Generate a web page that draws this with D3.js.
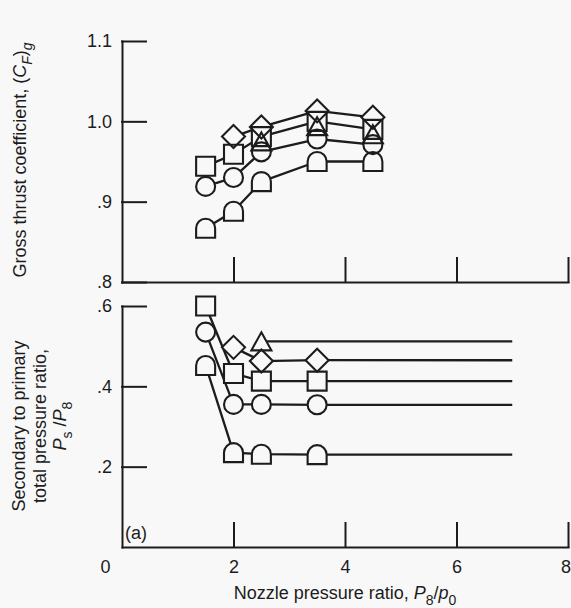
<!DOCTYPE html>
<html>
<head>
<meta charset="utf-8">
<script src="https://cdn.jsdelivr.net/npm/d3@7"></script>
<style>
  html, body { margin: 0; padding: 0; background: #f8f8f8; }
  svg { display: block; font-family: "Liberation Sans", Arial, Helvetica, sans-serif; }
</style>
</head>
<body>
<svg id="chart" width="571" height="608"></svg>
<script>
// Nozzle pressure ratios P8/p0 at which data were taken
const nozzlePR = [1.5, 2, 2.5, 3.5, 4.5];

// Gross thrust coefficient (C_F)g, one array per symbol (null = no point)
const cfTomb     = [0.867, 0.888, 0.925, 0.950, 0.950];
const cfCircle   = [0.919, 0.930, 0.962, 0.978, 0.971];
const cfSquare   = [0.944, 0.959, 0.981, 1.000, 0.990];
const cfTriangle = [null,  null,  0.975, 0.994, 0.984];
const cfDiamond  = [null,  0.981, 0.993, 1.013, 1.005];

// Secondary to primary total pressure ratio Ps/P8
const psTomb     = [0.452, 0.235, 0.231, 0.230, null];
const psCircle   = [0.535, 0.355, 0.355, 0.354, null];
const psSquare   = [0.600, 0.432, 0.413, 0.413, null];
const psTriangle = [null,  null,  0.512, null,  null];
const psDiamond  = [null,  0.497, 0.463, 0.465, null];
// pressure-ratio curves are carried level out to this nozzle pressure ratio
const psFairedTo = 7;

// Axis ticks
const xTicks = [0, 2, 4, 6, 8];
const cfTicks = [0.8, 0.9, 1.0, 1.1];
const psTicks = [0.2, 0.4, 0.6];

const INK = "#1c1c1c";
const BG = "#f8f8f8";
const FONT = 18;

const svg = d3.select("#chart");
svg.append("rect").attr("width", 571).attr("height", 608).attr("fill", BG);

const x = d3.scaleLinear().domain([0, 8]).range([122, 568]);
const yTop = d3.scaleLinear().domain([0.8, 1.1]).range([282, 41]);
const yBot = d3.scaleLinear().domain([0, 0.6]).range([547, 306]);

const tickFmt = d => d >= 1 ? d.toFixed(1) : d.toFixed(1).replace(/^0/, "");

function styleAxis(g) {
  g.attr("font-family", null).attr("font-size", null);
  g.selectAll(".domain, .tick line")
    .attr("stroke", INK).attr("stroke-width", 2).attr("stroke-linecap", "square");
  g.selectAll(".tick text").attr("fill", INK).attr("font-size", FONT);
}

// ---- axes ----
svg.append("g").attr("transform", `translate(${x(0)},0)`)
  .call(d3.axisLeft(yTop).tickValues(cfTicks).tickSize(-24).tickSizeOuter(0)
    .tickPadding(10).tickFormat(tickFmt))
  .call(styleAxis);

svg.append("g").attr("transform", `translate(0,${yTop(0.8)})`)
  .call(d3.axisBottom(x).tickValues(xTicks.filter(d => d > 0)).tickSize(-24)
    .tickSizeOuter(0).tickFormat(""))
  .call(styleAxis);

svg.append("g").attr("transform", `translate(${x(0)},0)`)
  .call(d3.axisLeft(yBot).tickValues(psTicks).tickSize(-24).tickSizeOuter(0)
    .tickPadding(10).tickFormat(tickFmt))
  .call(styleAxis);

const xAxisBot = svg.append("g").attr("transform", `translate(0,${yBot(0)})`)
  .call(d3.axisBottom(x).tickValues(xTicks).tickSize(-24).tickSizeOuter(0)
    .tickPadding(13).tickFormat(d3.format("d")))
  .call(styleAxis);
// origin label sits at the corner, shared by both axes
xAxisBot.selectAll(".tick").filter(d => d === 0)
  .call(t => t.select("line").remove())
  .select("text").attr("x", -17);
// last label is kept inside the right edge
xAxisBot.selectAll(".tick").filter(d => d === 8)
  .select("text").attr("text-anchor", "end").attr("x", 2.5);

// ---- symbols ----
const H = 9.5;
const shapes = {
  circle:   `M${-H},0A${H},${H} 0 1,1 ${H},0A${H},${H} 0 1,1 ${-H},0Z`,
  square:   `M${-H},${-H}H${H}V${H}H${-H}Z`,
  diamond:  `M0,-11.5L11.5,0L0,11.5L-11.5,0Z`,
  triangle: `M0,-9L10,9H-10Z`,
  tomb:     `M${-H},0A${H},${H} 0 0,1 ${H},0V${H}H${-H}Z`
};

const topSeries = [
  { shape: "tomb", values: cfTomb, line: true },
  { shape: "circle", values: cfCircle, line: true },
  { shape: "square", values: cfSquare, line: true },
  { shape: "triangle", values: cfTriangle, line: false },
  { shape: "diamond", values: cfDiamond, line: true }
];
const botSeries = [
  { shape: "tomb", values: psTomb },
  { shape: "circle", values: psCircle },
  { shape: "square", values: psSquare },
  { shape: "triangle", values: psTriangle },
  { shape: "diamond", values: psDiamond }
];

function points(values) {
  return nozzlePR.map((p, i) => ({ p, v: values[i] })).filter(d => d.v != null);
}

function drawPanel(series, y, faired) {
  const g = svg.append("g");
  const line = d3.line().x(d => x(d.p)).y(d => y(d.v));
  series.forEach(s => {
    if (s.line === false) return;
    const pts = points(s.values);
    if (faired != null) pts.push({ p: faired, v: pts[pts.length - 1].v });
    g.append("path").attr("d", line(pts))
      .attr("fill", "none").attr("stroke", INK).attr("stroke-width", 2.3)
      .attr("stroke-linejoin", "round");
  });
  const all = series.flatMap(s => points(s.values).map(d => ({ ...d, shape: s.shape })));
  // symbols are open: mask the curves first, then draw every outline on top
  g.selectAll("path.fill").data(all).join("path").attr("class", "fill")
    .attr("d", d => shapes[d.shape])
    .attr("transform", d => `translate(${x(d.p)},${y(d.v)})`)
    .attr("fill", BG).attr("stroke", "none");
  g.selectAll("path.outline").data(all).join("path").attr("class", "outline")
    .attr("d", d => shapes[d.shape])
    .attr("transform", d => `translate(${x(d.p)},${y(d.v)})`)
    .attr("fill", "none").attr("stroke", INK).attr("stroke-width", 2.1)
    .attr("stroke-linejoin", "miter");
}

drawPanel(topSeries, yTop, null);
drawPanel(botSeries, yBot, psFairedTo);

// ---- titles ----
const SUB = 6, SUBSIZE = 14;
function rich(text, parts) {
  let shift = 0;
  parts.forEach(p => {
    const ts = text.append("tspan").text(p.t);
    if (p.i) ts.attr("font-style", "italic");
    const target = p.s ? SUB : 0;
    if (target !== shift) { ts.attr("dy", target - shift); shift = target; }
    if (p.s) ts.attr("font-size", SUBSIZE);
  });
  return text;
}

rich(svg.append("text").attr("transform", "translate(25.5,160) rotate(-90)")
  .attr("text-anchor", "middle").attr("font-size", FONT).attr("fill", INK), [
  { t: "Gross thrust coefficient, (" }, { t: "C", i: 1 }, { t: "F", i: 1, s: 1 },
  { t: ")" }, { t: "g", i: 1, s: 1 }
]);

const psTitle = [
  [{ t: "Secondary to primary" }],
  [{ t: "total pressure ratio," }],
  [{ t: "P", i: 1 }, { t: "s", s: 1 }, { t: " /" }, { t: "P", i: 1 }, { t: "8", s: 1 }]
];
psTitle.forEach((parts, k) => {
  rich(svg.append("text").attr("transform", `translate(${25 + k * 20.5},426) rotate(-90)`)
    .attr("text-anchor", "middle").attr("font-size", FONT).attr("fill", INK), parts);
});

rich(svg.append("text").attr("x", 345).attr("y", 599)
  .attr("text-anchor", "middle").attr("font-size", FONT).attr("fill", INK), [
  { t: "Nozzle pressure ratio, " }, { t: "P", i: 1 }, { t: "8", s: 1 },
  { t: "/" }, { t: "p", i: 1 }, { t: "0", s: 1 }
]);

svg.append("text").attr("x", 125).attr("y", 539)
  .attr("font-size", FONT).attr("fill", INK).text("(a)");
</script>
</body>
</html>
